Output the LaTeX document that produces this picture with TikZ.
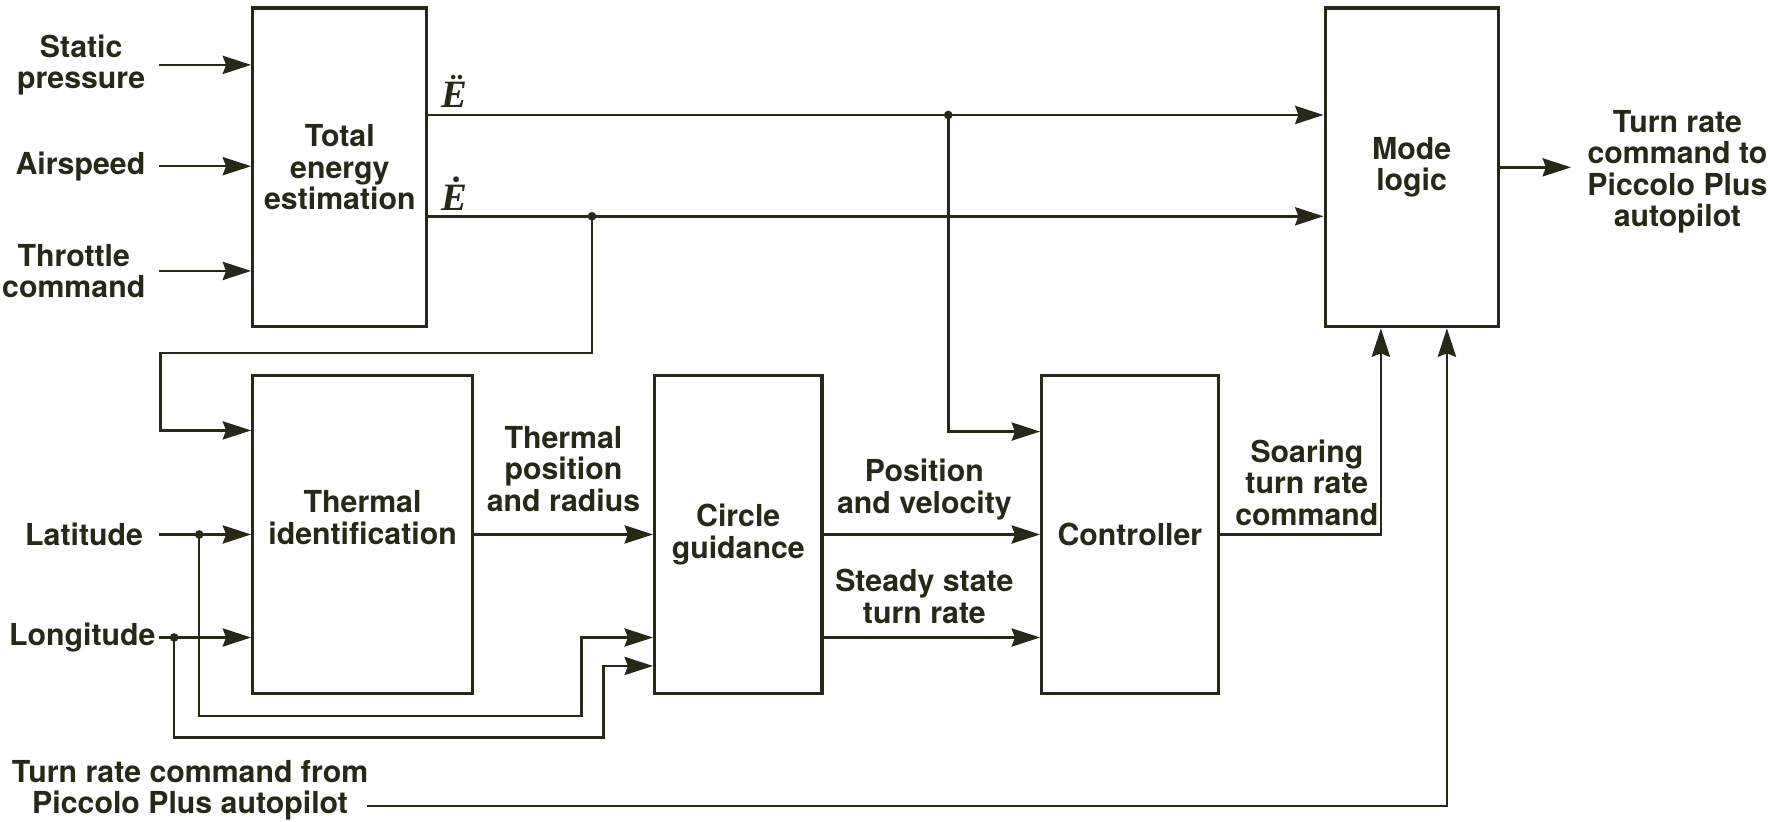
\documentclass[tikz,border=0pt]{standalone}
\usepackage{fontspec}
\setmainfont{TeX Gyre Heros}
\newfontfamily\evar{Liberation Serif}
\usetikzlibrary{positioning,arrows.meta}
\definecolor{ink}{RGB}{40,40,24}

\begin{document}
\begin{tikzpicture}[x=0.5pt,y=-0.5pt,color=ink,
font=\fontsize{13.3}{13.8}\selectfont\bfseries,
block/.style={draw,line width=1.4pt,minimum height=140pt,inner sep=2pt,align=center},
lbl/.style={align=center,inner sep=0pt},
arr/.style={-{Stealth[length=12.5pt,width=8pt,inset=1.5pt]},line width=1.1pt},
dot/.style={circle,fill,inner sep=0pt,minimum size=3.8pt},
evar/.style={inner sep=0pt,font=\fontsize{17}{18}\selectfont\evar\bfseries\itshape},
node distance=6pt]
\useasboundingbox (0,0) rectangle (1568,722);
\node[block,minimum width=76.5pt] (tee) at (298.5,147) {Total\\energy\\estimation};
\node[block,minimum width=76pt] (mode) at (1240,147) {Mode\\logic};
\node[block,minimum width=96.5pt,text depth=15pt] (tid) at (318.5,469.5) {Thermal\\identification};
\node[block,minimum width=73.5pt] (cg) at (648.5,469.5) {Circle\\guidance};
\node[block,minimum width=77.5pt] (ctrl) at (992.5,469.5) {Controller};

\coordinate (sp) at (140,57); \coordinate (as) at (140,146); \coordinate (tc) at (140,238);
\node[lbl,left=of sp] (lsp) {Static\\pressure};
\node[lbl,left=of as] (las) {Airspeed};
\node[lbl,left=of tc] (ltc) {Throttle\\command};
\draw[arr] (sp) -- (sp -| tee.west); \draw[arr] (as) -- (as -| tee.west); \draw[arr] (tc) -- (tc -| tee.west);

\node[dot] (jdd) at (833,101) {};
\node[dot] (jd) at (520,190) {};
\node[evar] (ldd) at (399,80) {Ë};
\node[evar] (ld) at (399,170) {Ė};
\draw[arr] (tee.east |- jdd) -- (jdd -| mode.west);
\draw[arr] (tee.east |- jd) -- (jd -| mode.west);
\draw[arr] (jdd.center) |- ([yshift=-25.5pt]ctrl.north west);
\draw[arr] (jd.center) |- (141,310) |- ([yshift=-25pt]tid.north west);

\coordinate (lat) at (140,469.5); \coordinate (lon) at (140,560);
\node[lbl,left=7pt of lat] (llat) {Latitude};
\node[lbl,left=1.5pt of lon] (llon) {Longitude};
\node[dot] (jlat) at (175,469.5) {};
\node[dot] (jlon) at (153,560) {};
\draw[arr] (lat) -- (lat -| tid.west); \draw[arr] (lon) -- (lon -| tid.west);
\draw[arr] (jlat.center) |- (511,629) |- ([yshift=-45.25pt]cg.west);
\draw[arr] (jlon.center) |- (530,648) |- ([yshift=-57.75pt]cg.west);

\draw[arr] (tid.east) -- (cg.west);
\node[lbl] (ltp) at (495,412) {Thermal\\position\\and radius};
\draw[arr] (cg.east) -- (ctrl.west);
\node[lbl] (lpv) at (812,430) {Position\\and velocity};
\draw[arr] ([yshift=-45.25pt]cg.east) -- ([yshift=-45.25pt]ctrl.west);
\node[lbl] (lss) at (812,524) {Steady state\\turn rate};

\draw[arr] (ctrl.east) -| ([xshift=-13.5pt]mode.south);
\node[lbl] (lsc) at (1148,424) {Soaring\\turn rate\\command};

\coordinate (trc) at (322,708);
\node[lbl] (ltr) at (167,694) {Turn rate command from\\Piccolo Plus autopilot};
\draw[arr] (trc) -| ([xshift=15.5pt]mode.south);

\coordinate (mout) at (1380,147);
\draw[arr] (mode.east) -- (mout);
\node[lbl,right=7pt of mout,yshift=-2pt] (lto) {Turn rate\\command to\\Piccolo Plus\\autopilot};
\end{tikzpicture}
\end{document}
